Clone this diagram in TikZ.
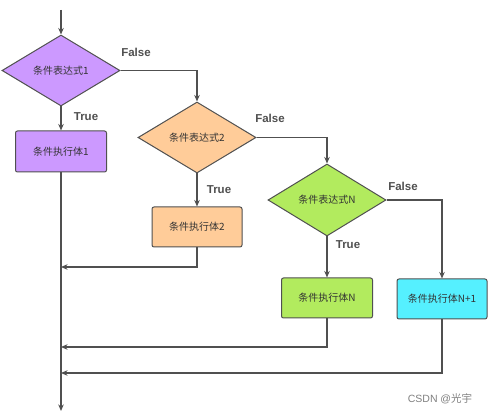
\documentclass[tikz,border=0pt]{standalone}
\usepackage{fontspec}
\setmainfont{Liberation Sans}
\newfontfamily\cjk{Noto Sans CJK SC}
\usetikzlibrary{shapes.geometric,arrows.meta}
\definecolor{linecol}{HTML}{505050}
\definecolor{textcol}{HTML}{333333}
\definecolor{purplefill}{HTML}{CC99FF}
\definecolor{orangefill}{HTML}{FFCC99}
\definecolor{greenfill}{HTML}{B2EB5E}
\definecolor{cyanfill}{HTML}{55F0FF}
\begin{document}
\begin{tikzpicture}[x=1pt,y=-1pt,
  cond/.style={diamond,draw=linecol,line width=1pt,inner sep=0pt,minimum width=118pt,minimum height=71pt,text=textcol,font=\cjk\fontsize{10}{12}\selectfont},
  body/.style={rectangle,rounded corners=2pt,draw=linecol,line width=1pt,inner sep=0pt,minimum width=90pt,minimum height=40pt,text=textcol,font=\cjk\fontsize{10}{12}\selectfont},
  conn/.style={draw=linecol,line width=1.2pt},
  arr/.style={conn,-{Stealth[length=6.5pt,width=5.5pt]}},
  lbl/.style={font=\bfseries\fontsize{11.5}{13}\selectfont,text=linecol,inner sep=0pt}
]
\useasboundingbox (0,0) rectangle (493,414);
\fill[white] (0,0) rectangle (493,414);
\coordinate (start) at (61,10);
\coordinate (stop) at (61,411);
\coordinate (j2) at (61,267);
\coordinate (j3) at (61,347);
\coordinate (j4) at (61,373);

\node[cond,fill=purplefill] (d1) at (61,70.5) {条件表达式1};
\node[body,fill=purplefill,minimum width=91pt,minimum height=41pt] (r1) at (61,151.5) {条件执行体1};
\node[cond,fill=orangefill] (d2) at (197,137.5) {条件表达式2};
\node[body,fill=orangefill] (r2) at (197,227) {条件执行体2};
\node[cond,fill=greenfill,minimum height=72pt] (d3) at (327,200) {条件表达式N};
\node[body,fill=greenfill,minimum width=91pt] (r3) at (327,298) {条件执行体N};
\node[body,fill=cyanfill] (r4) at (442,299) {条件执行体N+1};

\draw[arr] (start) -- (d1.north);
\draw[arr] (d1.south) -- (r1.north);
\draw[arr] (d1.east) -| (d2.north);
\draw[arr] (d2.south) -- (r2.north);
\draw[arr] (d2.east) -| (d3.north);
\draw[arr] (d3.south) -- (r3.north);
\draw[arr] (d3.east) -| (r4.north);
\draw[arr] (r1.south) -- (stop);
\draw[arr] (r2.south) |- (j2);
\draw[arr] (r3.south) |- (j3);
\draw[arr] (r4.south) |- (j4);

\node[lbl] (f1) at (136,52) {False};
\node[lbl] (t1) at (86,117) {True};
\node[lbl] (f2) at (270,118) {False};
\node[lbl] (t2) at (219,190) {True};
\node[lbl] (f3) at (403,186) {False};
\node[lbl] (t3) at (348,245) {True};

\node[text=gray,inner sep=0pt,font=\fontsize{10.5}{12}\selectfont] (wm) at (440,399) {CSDN @{\cjk 光宇}};
\end{tikzpicture}
\end{document}
